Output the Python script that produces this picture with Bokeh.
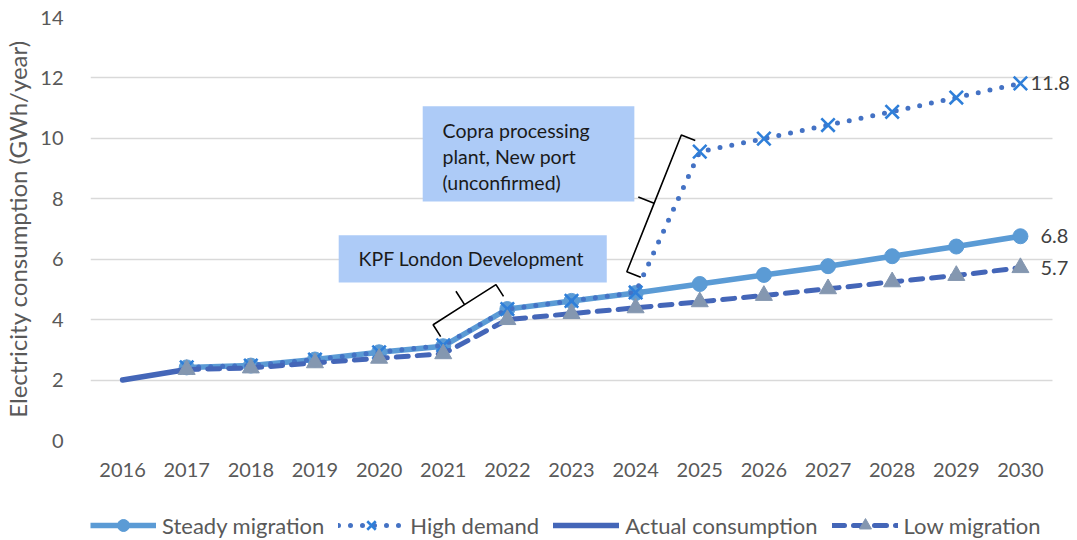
import math
from bokeh.plotting import figure
from bokeh.layouts import column
from bokeh.models import (ColumnDataSource, Legend, LegendItem, BoxAnnotation, Label,
                          Range1d, FixedTicker)
from bokeh.embed import file_html
from bokeh.resources import INLINE

nan = float("nan")
years = list(range(2016, 2031))
steady = [nan, 2.42, 2.48, 2.68, 2.92, 3.12, 4.35, 4.62, 4.88, 5.18, 5.48, 5.77, 6.10, 6.42, 6.76]
high = [nan, 2.42, 2.48, 2.68, 2.92, 3.15, 4.35, 4.62, 4.90, 9.56, 9.99, 10.44, 10.88, 11.35, 11.82]
actual = [2.0, 2.35] + [nan] * 13
low = [nan, 2.35, 2.40, 2.57, 2.72, 2.87, 4.00, 4.20, 4.39, 4.59, 4.80, 5.02, 5.25, 5.46, 5.72]
y_ticks = [0, 2, 4, 6, 8, 10, 12, 14]
series_names = ["Steady migration", "High demand", "Actual consumption", "Low migration"]

# annotation text
box1_text = ["KPF London Development"]
box2_text = ["Copra processing", "plant, New port", "(unconfirmed)"]

FONT = "Lato"
GREY = "#595959"

X0, XEND = 2015.5, 2030.5
Y0, Y1 = 0, 14
FW0, FH = 962, 423
sx = FW0 / (XEND - X0)
sy = FH / (Y1 - Y0)
EXTRA = 20  # px of room for end labels right of the plot area
FW = FW0 + EXTRA
X1 = XEND + EXTRA / sx
TOTAL_W = 82 + FW

p = figure(frame_width=FW, frame_height=FH, output_backend="svg", toolbar_location=None,
           x_range=Range1d(X0, X1), y_range=Range1d(Y0, Y1),
           min_border_left=82, min_border_top=17, min_border_right=0, min_border_bottom=0)
p.outline_line_color = None
p.background_fill_color = "white"

src = ColumnDataSource(dict(x=years, steady=steady, high=high, actual=actual, low=low))


def draw_series(fig):
    r = {}
    r["s_line"] = fig.line("x", "steady", source=src, line_color="#5B9BD5", line_width=5.5)
    r["s_mark"] = fig.scatter("x", "steady", source=src, marker="circle", size=15,
                              fill_color="#5B9BD5", line_color="#5B9BD5")
    r["h_line"] = fig.line("x", "high", source=src, line_color="#4472C4", line_width=5,
                           line_dash="0 12", line_cap="round")
    r["h_mark"] = fig.scatter("x", "high", source=src, marker="x", size=19,
                              line_color="#2F7FD9", line_width=2.6)
    r["a_line"] = fig.line("x", "actual", source=src, line_color="#4466B8", line_width=5.5,
                           line_cap="round")
    r["l_line"] = fig.line("x", "low", source=src, line_color="#4466B8", line_width=5,
                           line_dash="12 9", line_cap="round")
    r["l_mark"] = fig.scatter("x", "low", source=src, marker="triangle", size=17,
                              fill_color="#8497B0", line_color="#8497B0")
    return r


draw_series(p)

# axes
p.xaxis.ticker = FixedTicker(ticks=years)
p.yaxis.ticker = FixedTicker(ticks=y_ticks)
for ax in (p.xaxis, p.yaxis):
    ax.axis_line_color = None
    ax.major_tick_line_color = None
    ax.minor_tick_line_color = None
    ax.major_label_text_font = FONT
    ax.major_label_text_font_size = "20px"
    ax.major_label_text_color = GREY
p.xaxis.major_label_standoff = 16
p.yaxis.major_label_standoff = 21
p.yaxis.axis_label = "Electricity consumption (GWh/year)"
p.yaxis.axis_label_text_font = FONT
p.yaxis.axis_label_text_font_size = "24px"
p.yaxis.axis_label_text_font_style = "normal"
p.yaxis.axis_label_text_color = GREY
p.yaxis.axis_label_standoff = 5
p.xgrid.grid_line_color = None
p.ygrid.grid_line_color = "#D9D9D9"
p.ygrid.grid_line_width = 1.5

# white margin strip right of the plot area (grid stops at the last category)
p.add_layout(BoxAnnotation(left=XEND, fill_color="white", fill_alpha=1, line_color=None,
                           level="underlay"))

# end labels
for vals, off in ((high, 10), (steady, 20), (low, 20)):
    p.add_layout(Label(x=years[-1], y=vals[-1], text=f"{vals[-1]:.1f}", x_offset=off,
                       text_baseline="middle", text_font=FONT, text_font_size="20px",
                       text_color="#404040"))


# braces
def brace(A, B, hook, tip):
    ax, ay = A[0] * sx, A[1] * sy
    bx, by = B[0] * sx, B[1] * sy
    dx, dy = bx - ax, by - ay
    L = math.hypot(dx, dy)
    nx, ny = -dy / L, dx / L
    mx, my = (ax + bx) / 2, (ay + by) / 2
    pts = [(ax, ay), (ax + hook * nx, ay + hook * ny), (mx + hook * nx, my + hook * ny),
           (mx + (hook + tip) * nx, my + (hook + tip) * ny), (mx + hook * nx, my + hook * ny),
           (bx + hook * nx, by + hook * ny), (bx, by)]
    return [q[0] / sx for q in pts], [q[1] / sy for q in pts]


for A, B, h, t in (((2020.96, 3.44), (2021.94, 4.77), 14, 16),
                   ((2024.08, 5.40), (2024.93, 9.93), 15, 17)):
    bxs, bys = brace(A, B, h, t)
    p.line(bxs, bys, line_color="black", line_width=1.6)

# callout boxes
p.add_layout(BoxAnnotation(left=2019.37, right=2023.55, bottom=5.23, top=6.79,
                           fill_color="#ADCBF7", fill_alpha=1, line_color=None))
p.add_layout(BoxAnnotation(left=2020.68, right=2023.98, bottom=7.91, top=11.06,
                           fill_color="#ADCBF7", fill_alpha=1, line_color=None))
p.add_layout(Label(x=2019.68, y=6.02, text=box1_text[0], text_baseline="middle",
                   text_font=FONT, text_font_size="19.5px", text_color="#1A1A1A"))
for i, t in enumerate(box2_text):
    p.add_layout(Label(x=2020.99, y=10.26 - i * 0.86, text=t, text_baseline="middle",
                       text_font=FONT, text_font_size="19.5px", text_color="#1A1A1A"))

# legend strip: a second figure with the same series kept out of its visible range
lg = figure(width=TOTAL_W, height=61, output_backend="svg", toolbar_location=None,
            x_range=Range1d(X0, X1), y_range=Range1d(100, 101),
            min_border_left=82, min_border_right=0, min_border_top=0, min_border_bottom=0)
lg.axis.visible = False
lg.grid.visible = False
lg.outline_line_color = None
rr = draw_series(lg)

legend = Legend(items=[
    LegendItem(label=series_names[0], renderers=[rr["s_line"], rr["s_mark"]]),
    LegendItem(label=series_names[1], renderers=[rr["h_line"], rr["h_mark"]]),
    LegendItem(label=series_names[2], renderers=[rr["a_line"]]),
    LegendItem(label=series_names[3], renderers=[rr["l_line"], rr["l_mark"]]),
], orientation="horizontal", location=(0, 0))
legend.label_text_font = FONT
legend.label_text_font_size = "22px"
legend.label_text_color = GREY
legend.glyph_width = 66
legend.glyph_height = 30
legend.label_height = 30
legend.label_standoff = 6
legend.spacing = 14
legend.border_line_color = None
legend.background_fill_alpha = 0
legend.margin = 0
legend.padding = 0
lg.add_layout(legend)

open("out.html", "w").write(file_html(column(p, lg, spacing=0), INLINE))
